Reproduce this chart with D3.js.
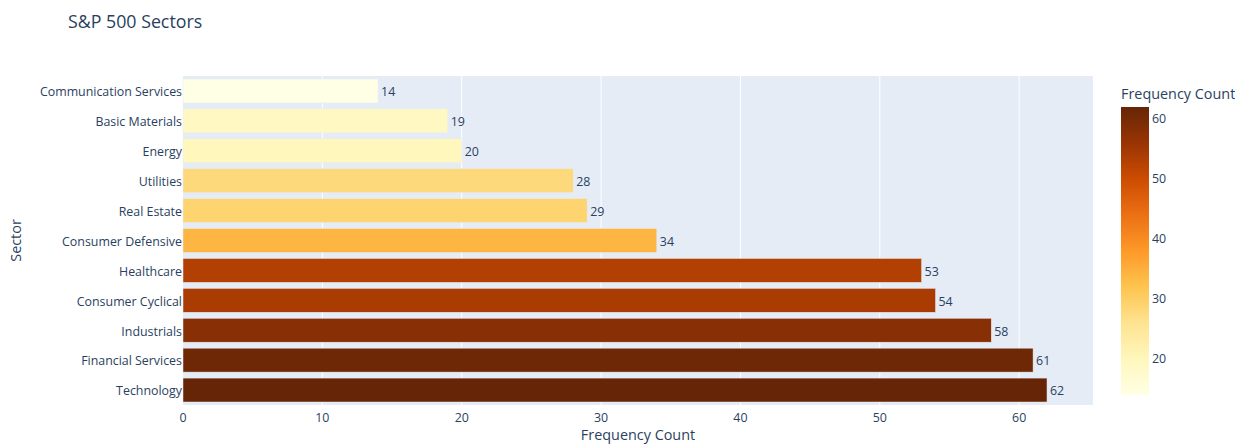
<!DOCTYPE html>
<html>
<head>
<meta charset="utf-8">
<script src="https://cdn.jsdelivr.net/npm/d3@7"></script>
<style>
  body { margin: 0; background: #fff; }
  text { font-family: "Open Sans", "Liberation Sans", sans-serif; fill: #2a3f5f; }
</style>
</head>
<body>
<svg id="chart" width="1235" height="444"></svg>
<script>
const sectors = ["Communication Services", "Basic Materials", "Energy", "Utilities", "Real Estate",
  "Consumer Defensive", "Healthcare", "Consumer Cyclical", "Industrials", "Financial Services", "Technology"];
const counts = [14, 19, 20, 28, 29, 34, 53, 54, 58, 61, 62];
const xTicks = [0, 10, 20, 30, 40, 50, 60];
const cbTicks = [20, 30, 40, 50, 60];
const ylorbr = ["rgb(255,255,229)", "rgb(255,247,188)", "rgb(254,227,145)", "rgb(254,196,79)",
  "rgb(254,153,41)", "rgb(236,112,20)", "rgb(204,76,2)", "rgb(153,52,4)", "rgb(102,37,6)"];

const svg = d3.select("#chart");
const margin = { left: 183, top: 76, right: 1093, bottom: 405 };

const cMin = d3.min(counts), cMax = d3.max(counts);
const color = d3.scaleLinear()
  .domain(ylorbr.map((c, i) => cMin + (cMax - cMin) * i / (ylorbr.length - 1)))
  .range(ylorbr)
  .interpolate(d3.interpolateRgb);

const x = d3.scaleLinear().domain([0, 65.3]).range([margin.left, margin.right]);
const y = d3.scaleBand().domain(sectors).range([margin.top, margin.bottom]).paddingInner(0.2).paddingOuter(0.1);

// plot background
svg.append("rect")
  .attr("x", margin.left).attr("y", margin.top)
  .attr("width", margin.right - margin.left).attr("height", margin.bottom - margin.top)
  .attr("fill", "#E5ECF6");

// vertical gridlines
svg.append("g").selectAll("line")
  .data(xTicks.filter(d => d > 0))
  .enter().append("line")
  .attr("x1", d => x(d)).attr("x2", d => x(d))
  .attr("y1", margin.top).attr("y2", margin.bottom)
  .attr("stroke", "#fff").attr("stroke-width", 1);

// bars
svg.append("g").selectAll("rect")
  .data(sectors)
  .enter().append("rect")
  .attr("x", x(0))
  .attr("y", d => y(d))
  .attr("width", (d, i) => x(counts[i]) - x(0))
  .attr("height", y.bandwidth())
  .attr("fill", (d, i) => color(counts[i]))
  .attr("stroke", "#E5ECF6")
  .attr("stroke-width", 0.5);

// value labels
svg.append("g").selectAll("text")
  .data(sectors)
  .enter().append("text")
  .attr("x", (d, i) => x(counts[i]) + 3)
  .attr("y", d => y(d) + y.bandwidth() / 2 + 1)
  .attr("dy", "0.35em")
  .style("font-size", "12.4px")
  .text((d, i) => counts[i]);

// y axis labels
svg.append("g").selectAll("text")
  .data(sectors)
  .enter().append("text")
  .attr("x", margin.left - 1)
  .attr("y", d => y(d) + y.bandwidth() / 2 + 1)
  .attr("dy", "0.35em")
  .attr("text-anchor", "end")
  .style("font-size", "12.4px")
  .text(d => d);

// x axis labels
svg.append("g").selectAll("text")
  .data(xTicks)
  .enter().append("text")
  .attr("x", d => x(d))
  .attr("y", margin.bottom + 13)
  .attr("dy", "0.35em")
  .attr("text-anchor", "middle")
  .style("font-size", "12.4px")
  .text(d => d);

// titles
svg.append("text")
  .attr("x", 68).attr("y", 28)
  .style("font-size", "17.8px")
  .text("S&P 500 Sectors");

svg.append("text")
  .attr("x", (margin.left + margin.right) / 2).attr("y", 440)
  .attr("text-anchor", "middle")
  .style("font-size", "14.4px")
  .text("Frequency Count");

svg.append("text")
  .attr("transform", `translate(21,${(margin.top + margin.bottom) / 2}) rotate(-90)`)
  .attr("text-anchor", "middle")
  .style("font-size", "14.4px")
  .text("Sector");

// colorbar
const cbX = 1121, cbW = 28;
const cb = d3.scaleLinear().domain([cMin, cMax]).range([395, 107]);

const defs = svg.append("defs");
const grad = defs.append("linearGradient")
  .attr("id", "cbgrad")
  .attr("x1", 0).attr("y1", 1).attr("x2", 0).attr("y2", 0);
grad.selectAll("stop")
  .data(ylorbr)
  .enter().append("stop")
  .attr("offset", (d, i) => i / (ylorbr.length - 1))
  .attr("stop-color", d => d);

svg.append("rect")
  .attr("x", cbX).attr("y", cb(cMax))
  .attr("width", cbW).attr("height", cb(cMin) - cb(cMax))
  .attr("fill", "url(#cbgrad)");

svg.append("g").selectAll("text")
  .data(cbTicks)
  .enter().append("text")
  .attr("x", cbX + cbW + 3)
  .attr("y", d => cb(d))
  .attr("dy", "0.35em")
  .style("font-size", "12.4px")
  .text(d => d);

svg.append("text")
  .attr("x", cbX).attr("y", 99)
  .style("font-size", "14.4px")
  .text("Frequency Count");
</script>
</body>
</html>
